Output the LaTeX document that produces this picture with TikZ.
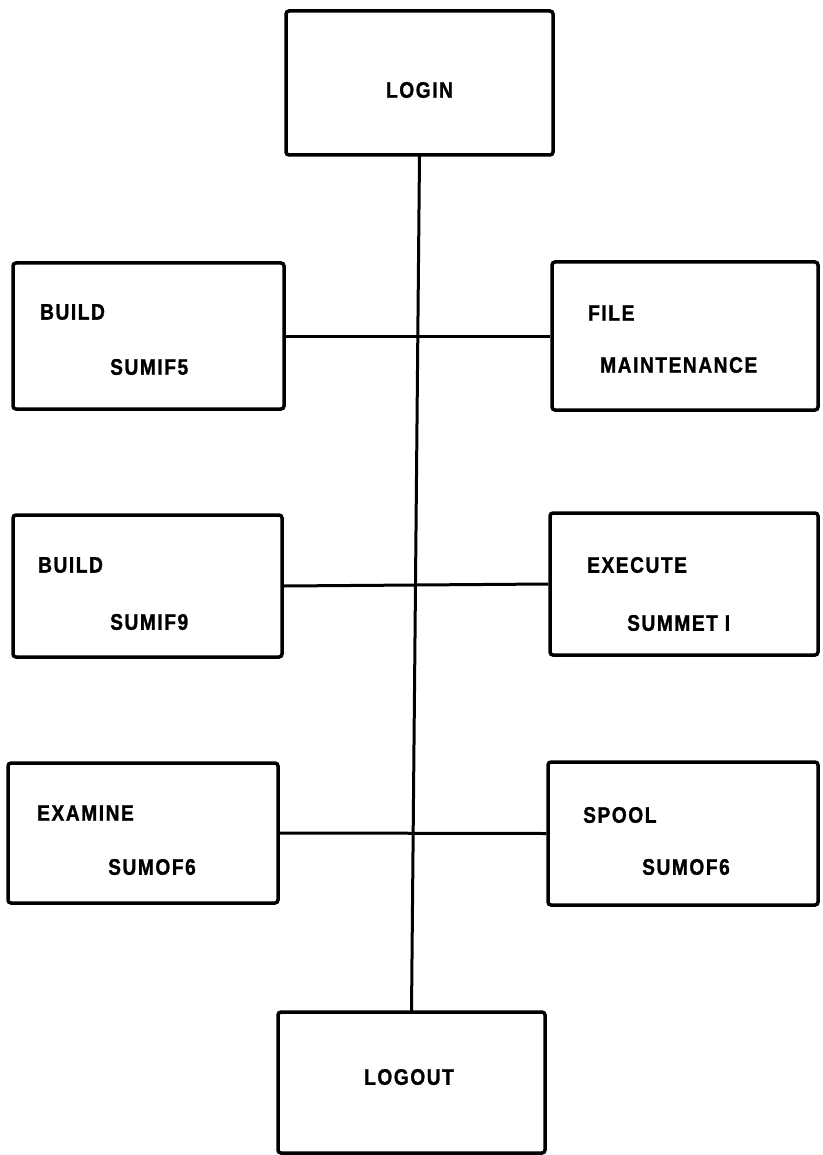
\documentclass[tikz,border=0pt]{standalone}
\usepackage{fontspec}
\newfontfamily\labelfont[FakeStretch=0.85,LetterSpace=7,FakeBold=1.2]{Liberation Sans}
\begin{document}
\begin{tikzpicture}[x=1pt,y=-1pt,
  box/.style={draw, line width=3.5pt, rounded corners=3pt, fill=white,
              minimum width=#1, minimum height=144pt, inner sep=0pt},
  box/.default=268pt,
  lbl/.style={anchor=west, inner sep=0pt,
              font=\labelfont\bfseries\fontsize{22.5}{27}\selectfont},
  ctr/.style={lbl, anchor=center},
  link/.style={line width=3pt}]
\useasboundingbox (0,0) rectangle (822,1155);
\fill[white] (0,0) rectangle (822,1155);

% trunk from LOGIN down to LOGOUT
\coordinate (top) at (419.5,155);
\coordinate (bot) at (411.5,1012);
\draw[link] (top) -- (bot);

% top and bottom
\node[box=267pt] (login)  at (419.5,83) {};
\node[ctr] (tlogin) at (419.5,90) {LOGIN};
\node[box=267pt, minimum height=141pt] (logout) at (411.5,1082.5) {};
\node[ctr] (tlogout) at (409,1077) {LOGOUT};

% left column
\node[box=271pt, minimum height=146pt] (b1) at (148.5,336) {};
\node[lbl] (b1a) at (40,312) {BUILD};
\node[lbl] (b1b) at (110,367) {SUMIF5};

\node[box=269pt, minimum height=142pt] (b2) at (147.5,586) {};
\node[lbl] (b2a) at (38,565) {BUILD};
\node[lbl] (b2b) at (110,622) {SUMIF9};

\node[box=270pt, minimum height=140pt] (ex) at (143,833) {};
\node[lbl] (exa) at (37,813) {EXAMINE};
\node[lbl] (exb) at (108,867) {SUMOF6};

% right column
\node[box=266pt, minimum height=148pt] (fm) at (685,336) {};
\node[lbl] (fma) at (588,313) {FILE};
\node[lbl] (fmb) at (600,365) {MAINTENANCE};

\node[box=268pt, minimum height=142pt] (exe) at (684,584) {};
\node[lbl] (exea) at (587,565) {EXECUTE};
\node[lbl] (exeb) at (627,623) {SUMMET I};

\node[box=270pt, minimum height=143pt] (sp) at (683,833.5) {};
\node[lbl] (spa) at (583,815) {SPOOL};
\node[lbl] (spb) at (642,867) {SUMOF6};

% branches across the trunk
\draw[link] (b1.east) -- (fm.west);
\draw[link] (b2.east) -- (exe.west);
\draw[link] (ex.east) -- (sp.west);
\end{tikzpicture}
\end{document}
